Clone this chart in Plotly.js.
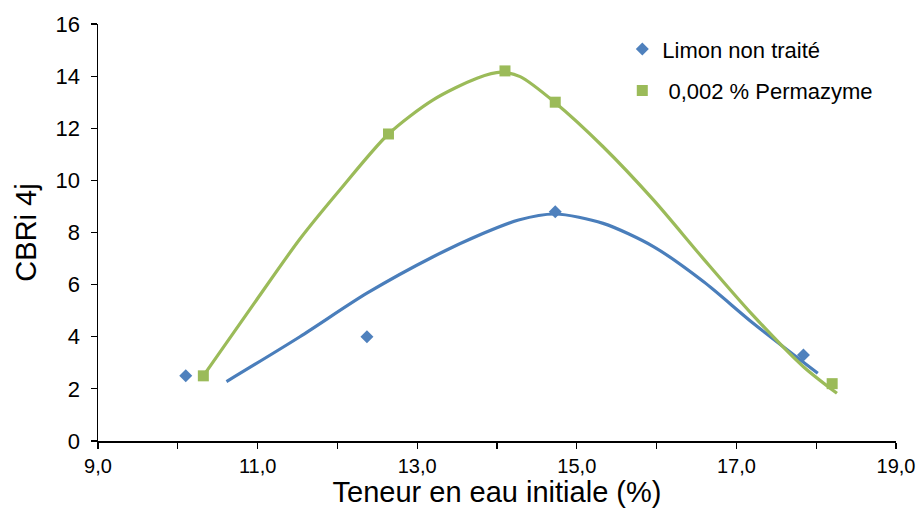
<!DOCTYPE html>
<html>
<head>
<meta charset="utf-8">
<script src="https://cdn.plot.ly/plotly-3.0.1.min.js"></script>
<style>html,body{margin:0;padding:0;background:#fff;}#chart{width:924px;height:520px;}</style>
</head>
<body>
<div id="chart"></div>
<script>
// Observed points
const limonX = [10.10, 12.37, 14.73, 17.84];
const limonY = [2.5, 4.0, 8.8, 3.3];
const permX = [10.32, 12.64, 14.10, 14.73, 18.20];
const permY = [2.5, 11.78, 14.2, 13.0, 2.2];
// Trend curves
const limonTrendX = [10.61, 11.53, 12.37, 13.20, 13.83, 14.27, 14.73, 15.33, 15.96, 16.59, 17.21, 18.02];
const limonTrendY = [2.28, 4.00, 5.67, 7.07, 7.97, 8.48, 8.71, 8.35, 7.46, 6.11, 4.52, 2.60];
const permTrendX = [10.32, 10.95, 11.53, 12.03, 12.64, 13.20, 13.75, 14.05, 14.29, 14.73, 15.33, 15.96, 16.59, 17.20, 17.84, 18.26];
const permTrendY = [2.5, 5.25, 7.75, 9.63, 11.78, 13.09, 13.92, 14.15, 13.98, 12.98, 11.29, 9.25, 6.98, 4.85, 2.85, 1.83];
const seriesNames = ['Limon non traité', ' 0,002 % Permazyme'];
const xTickVals = [9, 10, 11, 12, 13, 14, 15, 16, 17, 18, 19];
const xTickText = ['9,0', '', '11,0', '', '13,0', '', '15,0', '', '17,0', '', '19,0'];
const yTickVals = [0, 2, 4, 6, 8, 10, 12, 14, 16];

const blue = '#4F81BD', blueLine = '#4A7EBB', green = '#9BBB59';
const font = 'Liberation Sans, Arial, sans-serif';

const traces = [
  {x: limonTrendX, y: limonTrendY, mode: 'lines', line: {color: blueLine, width: 3.2, shape: 'spline', smoothing: 0.8}, showlegend: false, hoverinfo: 'skip'},
  {x: permTrendX, y: permTrendY, mode: 'lines', line: {color: green, width: 3.2, shape: 'spline', smoothing: 0.8}, showlegend: false, hoverinfo: 'skip'},
  {x: limonX, y: limonY, mode: 'markers', name: seriesNames[0], legendgroup: 'a', marker: {symbol: 'diamond', size: 10, color: blue}},
  {x: permX, y: permY, mode: 'markers', name: seriesNames[1], legendgroup: 'b', marker: {symbol: 'square', size: 11, color: green}}
];

const layout = {
  width: 924, height: 520,
  margin: {l: 98, r: 28, t: 24, b: 79},
  paper_bgcolor: '#fff', plot_bgcolor: '#fff',
  font: {family: font, color: '#000', size: 19},
  xaxis: {
    range: [9, 19], tickvals: xTickVals, ticktext: xTickText,
    showgrid: false, zeroline: false, showline: true, linecolor: '#000', linewidth: 1.5,
    ticks: 'outside', ticklen: 6, tickcolor: '#000', tickwidth: 1.2,
    tickfont: {size: 20, family: font},
    title: {text: 'Teneur en eau initiale (%)', font: {size: 29, family: font}, standoff: 6}
  },
  yaxis: {
    range: [0, 16], tickvals: yTickVals,
    showgrid: false, zeroline: false, showline: true, linecolor: '#000', linewidth: 1.5,
    ticks: 'outside', ticklen: 6, tickcolor: '#000', tickwidth: 1.2,
    ticklabelstandoff: 6,
    tickfont: {size: 22, family: font},
    title: {text: 'CBRi 4j', font: {size: 29, family: font}, standoff: 10}
  },
  legend: {
    x: 0.657, y: 0.99, xanchor: 'left', yanchor: 'top',
    font: {size: 22, family: font}, bgcolor: 'rgba(0,0,0,0)',
    traceorder: 'grouped', tracegroupgap: 10, itemwidth: 30
  },
  showlegend: true
};

Plotly.newPlot('chart', traces, layout, {displayModeBar: false, staticPlot: true});
</script>
</body>
</html>
